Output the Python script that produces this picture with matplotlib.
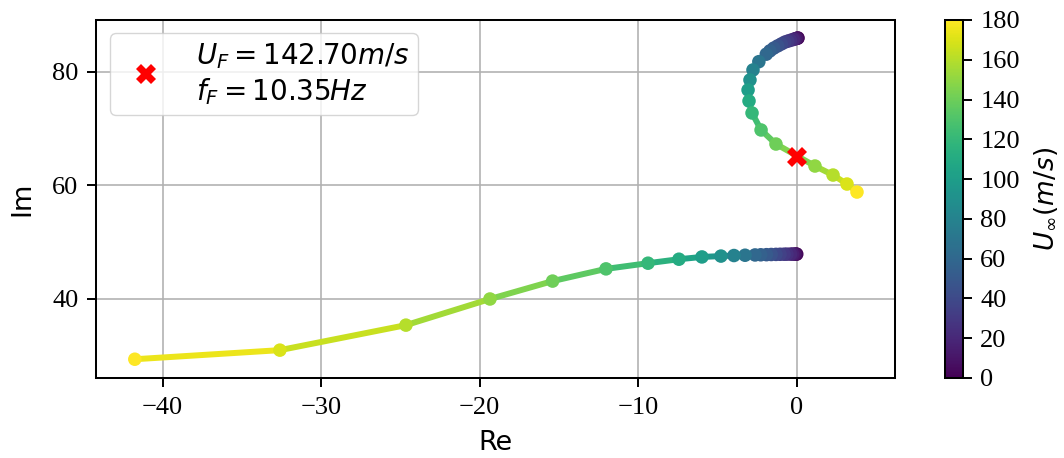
import numpy as np
import matplotlib
matplotlib.use("Agg")
import matplotlib.pyplot as plt
from matplotlib.collections import LineCollection
from matplotlib.colors import Normalize
from matplotlib.cm import ScalarMappable

# free-stream speed for each eigenvalue (m/s), finer steps at low speed
U = [0, 5, 10, 15, 20, 25, 30, 35, 40, 45, 50, 55, 60,
     70, 80, 90, 100, 110, 120, 130, 140, 150, 160, 170, 180]

# torsion-like mode (goes unstable)
re_1 = [0.08, 0.05, -0.01, -0.12, -0.22, -0.40, -0.57, -0.76, -0.97, -1.20, -1.45, -1.69, -1.92,
        -2.39, -2.76, -2.95, -3.07, -3.01, -2.82, -2.25, -1.31, 1.15, 2.29, 3.17, 3.80]
im_1 = [85.93, 85.90, 85.85, 85.76, 85.67, 85.51, 85.37, 85.19, 84.88, 84.54, 84.15, 83.66, 83.08,
        81.76, 80.30, 78.54, 76.78, 74.84, 72.73, 69.74, 67.27, 63.40, 61.81, 60.23, 58.82]

# bending-like mode
re_2 = [0.0, -0.04, -0.13, -0.26, -0.39, -0.62, -0.80, -1.05, -1.31, -1.61, -1.91, -2.27, -2.63,
        -3.26, -3.96, -4.78, -5.98, -7.43, -9.38, -12.03, -15.40, -19.35, -24.65, -32.60, -41.75]
im_2 = [47.90, 47.90, 47.90, 47.90, 47.90, 47.89, 47.88, 47.87, 47.85, 47.83, 47.80, 47.78, 47.75,
        47.70, 47.65, 47.55, 47.40, 47.00, 46.30, 45.30, 43.15, 40.00, 35.40, 31.00, 29.40]

# flutter point
U_F = 142.70
f_F = 10.35

plt.rcParams["font.family"] = "serif"
plt.rcParams["font.serif"] = ["Liberation Serif", "DejaVu Serif"]
plt.rcParams["mathtext.fontset"] = "dejavusans"

fig = plt.figure(figsize=(10.64, 4.58), dpi=100)
ax = fig.add_axes([0.0902, 0.1747, 0.751, 0.7817])
cax = fig.add_axes([0.888, 0.1747, 0.0169, 0.7817])

cmap = plt.get_cmap("viridis")
norm = Normalize(vmin=0, vmax=180)
Ua = np.array(U, dtype=float)

for re, im in [(re_1, im_1), (re_2, im_2)]:
    pts = np.column_stack([re, im])
    segs = np.stack([pts[:-1], pts[1:]], axis=1)
    lc = LineCollection(segs, cmap=cmap, norm=norm, linewidths=4.3,
                        capstyle="round", joinstyle="round", zorder=2)
    lc.set_array(0.5 * (Ua[:-1] + Ua[1:]))
    ax.add_collection(lc)
    ax.scatter(re, im, c=U, cmap=cmap, norm=norm, s=95, linewidths=0, zorder=3)

ax.plot([0.0], [2 * np.pi * f_F], "X", color="red", ms=14, mew=0, zorder=4,
        linestyle="none",
        label=f"$U_F = {U_F:.2f} m/s$\n$f_F = {f_F:.2f} Hz$")

ax.set_xlim(-44.2, 6.2)
ax.set_ylim(26.1, 89.1)
ax.set_xticks([-40, -30, -20, -10, 0])
ax.set_yticks([40, 60, 80])
ax.grid(True, color="#b0b0b0", linewidth=1.15)
ax.set_axisbelow(True)
ax.tick_params(labelsize=19, length=6.5, width=1.4)
ax.tick_params(axis="x", pad=7)
ax.tick_params(axis="y", pad=6)
for sp in ax.spines.values():
    sp.set_linewidth(1.45)
ax.set_xlabel("Re", fontsize=19.5, family="DejaVu Sans", labelpad=8)
ax.set_ylabel("Im", fontsize=19.5, family="DejaVu Sans", labelpad=12)

leg = ax.legend(loc="upper left", bbox_to_anchor=(0.0175, 0.9637), borderaxespad=0,
                fontsize=20, borderpad=0.3, framealpha=0.8)

cb = fig.colorbar(ScalarMappable(norm=norm, cmap=cmap), cax=cax)
cb.set_ticks(range(0, 181, 20))
cb.ax.tick_params(labelsize=19, length=6.5, width=1.4, pad=6)
cb.outline.set_linewidth(1.45)
cb.set_label(r"$U_{\infty}(m/s)$", fontsize=19, labelpad=9)

fig.savefig("out.png", dpi=100)
